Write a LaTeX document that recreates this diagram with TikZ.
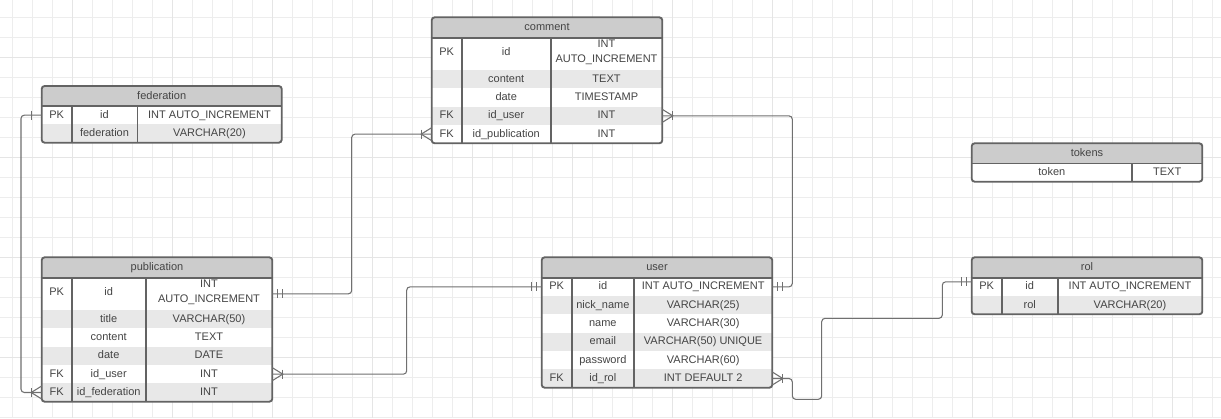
\documentclass[tikz,border=0pt]{standalone}
\usepackage{fontspec}
\setmainfont{Liberation Sans}
\usetikzlibrary{calc,fit}
\definecolor{hdrgray}{HTML}{CCCCCC}
\definecolor{rowgray}{HTML}{E8E8E8}
\definecolor{bordergray}{HTML}{636363}
\definecolor{txtgray}{HTML}{444444}
\definecolor{conngray}{HTML}{707070}
\definecolor{gridminor}{HTML}{EDEDED}
\definecolor{gridmajor}{HTML}{E5E5E5}
\tikzset{
  cell/.style={inner sep=0pt, outer sep=0pt},
  shaded/.style={cell, fill=rowgray, draw=none},
  txt/.style={text=txtgray, font=\fontsize{8.25}{10.5}\selectfont, inner sep=0pt, text height=4.5pt, text depth=0pt},
  tabline/.style={draw=bordergray, line width=1.2pt},
  tabframe/.style={draw=bordergray, line width=1.4pt, rounded corners=2.2pt},
  conn/.style={draw=conngray, line width=0.8pt, rounded corners=2.5pt},
  ermark/.style={draw=conngray, line width=0.8pt},
  crow/.pic={\draw[ermark] (0,-6.5) -- (-10.5,0) -- (0,6.5); \draw[ermark] (-10.5,-4.5) -- (-10.5,4.5);},
  onebar/.pic={\draw[ermark] (-10.5,-4.5) -- (-10.5,4.5);},
  twobar/.pic={\draw[ermark] (-5,-4.5) -- (-5,4.5); \draw[ermark] (-10,-4.5) -- (-10,4.5);},
}
\begin{document}
\begin{tikzpicture}[x=0.75pt,y=-0.75pt]
\useasboundingbox (0,0) rectangle (1221,418);
\fill[white] (0,0) rectangle (1221,418);
% grid
\foreach \gx in {12.3,32.3,...,1221} \draw[gridminor, line width=0.75pt] (\gx,0) -- (\gx,418);
\foreach \gy in {17.3,37.3,...,418} \draw[gridminor, line width=0.75pt] (0,\gy) -- (1221,\gy);
\foreach \gx in {72.3,172.3,...,1221} \draw[gridmajor, line width=0.75pt] (\gx,0) -- (\gx,418);
\foreach \gy in {57.3,157.3,...,418} \draw[gridmajor, line width=0.75pt] (0,\gy) -- (1221,\gy);

% ================= federation =================
\begin{scope}
\clip[rounded corners=2.2pt] (41.7,86) rectangle (281.7,142.7);
\fill[white] (41.7,86) rectangle (281.7,142.7);
\fill[hdrgray] (41.7,86) rectangle (281.7,106);
\node[fit={(41.7,106)(281.7,124.3)}, cell] (fedPK) {};
\node[fit={(41.7,124.3)(281.7,142.7)}, shaded] (fedName) {};
\end{scope}
\node[txt] (fedH) at (161.7,96) {federation};
\node[txt] (fedPKa) at (56.7,115.2) {PK};
\node[txt] (fedPKb) at (104.5,115.2) {id};
\node[txt] (fedPKc) at (209.5,115.2) {INT AUTO\_INCREMENT};
\node[txt] (fedNameb) at (104.5,133.5) {federation};
\node[txt] (fedNamec) at (209.5,133.5) {VARCHAR(20)};
\draw[tabline] (41.7,106) -- (281.7,106);
\draw[tabline] (71.7,106) -- (71.7,142.7);
\draw[tabline] (137.3,106) -- (137.3,142.7);
\draw[tabframe] (41.7,86) rectangle (281.7,142.7);

% ================= comment =================
\begin{scope}
\clip[rounded corners=2.2pt] (431.7,17.3) rectangle (662.3,143.3);
\fill[white] (431.7,17.3) rectangle (662.3,143.3);
\fill[hdrgray] (431.7,17.3) rectangle (662.3,37.7);
\node[fit={(431.7,37.7)(662.3,70)}, cell] (comPK) {};
\node[fit={(431.7,70)(662.3,88.3)}, shaded] (comContent) {};
\node[fit={(431.7,88.3)(662.3,106.7)}, cell] (comDate) {};
\node[fit={(431.7,106.7)(662.3,125)}, shaded] (comUser) {};
\node[fit={(431.7,125)(662.3,143.3)}, cell] (comPub) {};
\end{scope}
\node[txt] (comH) at (547,27.5) {comment};
\node[txt] (comPKa) at (446.7,52.9) {PK};
\node[txt] (comPKb) at (506.2,52.9) {id};
\node[txt] (comPKc) at (606.5,44.9) {INT};
\node[txt] (comPKd) at (606.5,59.9) {AUTO\_INCREMENT};
\node[txt] (comContentb) at (506.2,79.2) {content};
\node[txt] (comContentc) at (606.5,79.2) {TEXT};
\node[txt] (comDateb) at (506.2,97.5) {date};
\node[txt] (comDatec) at (606.5,97.5) {TIMESTAMP};
\node[txt] (comUsera) at (446.7,115.8) {FK};
\node[txt] (comUserb) at (506.2,115.8) {id\_user};
\node[txt] (comUserc) at (606.5,115.8) {INT};
\node[txt] (comPuba) at (446.7,134.2) {FK};
\node[txt] (comPubb) at (506.2,134.2) {id\_publication};
\node[txt] (comPubc) at (606.5,134.2) {INT};
\draw[tabline] (431.7,37.7) -- (662.3,37.7);
\draw[tabline] (461.7,37.7) -- (461.7,143.3);
\draw[tabline] (550.7,37.7) -- (550.7,143.3);
\draw[tabframe] (431.7,17.3) rectangle (662.3,143.3);

% ================= publication =================
\begin{scope}
\clip[rounded corners=2.2pt] (41.7,257.3) rectangle (272.3,401.7);
\fill[white] (41.7,257.3) rectangle (272.3,401.7);
\fill[hdrgray] (41.7,257.3) rectangle (272.3,277.7);
\node[fit={(41.7,277.7)(272.3,310)}, cell] (pubPK) {};
\node[fit={(41.7,310)(272.3,328.3)}, shaded] (pubTitle) {};
\node[fit={(41.7,328.3)(272.3,346.7)}, cell] (pubContent) {};
\node[fit={(41.7,346.7)(272.3,365)}, shaded] (pubDate) {};
\node[fit={(41.7,365)(272.3,383.3)}, cell] (pubUser) {};
\node[fit={(41.7,383.3)(272.3,401.7)}, shaded] (pubFed) {};
\end{scope}
\node[txt] (pubH) at (157,267.5) {publication};
\node[txt] (pubPKa) at (56.7,292.9) {PK};
\node[txt] (pubPKb) at (108.7,292.9) {id};
\node[txt] (pubPKc) at (209,284.9) {INT};
\node[txt] (pubPKd) at (209,299.9) {AUTO\_INCREMENT};
\node[txt] (pubTitleb) at (108.7,319.2) {title};
\node[txt] (pubTitlec) at (209,319.2) {VARCHAR(50)};
\node[txt] (pubContentb) at (108.7,337.5) {content};
\node[txt] (pubContentc) at (209,337.5) {TEXT};
\node[txt] (pubDateb) at (108.7,355.8) {date};
\node[txt] (pubDatec) at (209,355.8) {DATE};
\node[txt] (pubUsera) at (56.7,374.2) {FK};
\node[txt] (pubUserb) at (108.7,374.2) {id\_user};
\node[txt] (pubUserc) at (209,374.2) {INT};
\node[txt] (pubFeda) at (56.7,392.5) {FK};
\node[txt] (pubFedb) at (108.7,392.5) {id\_federation};
\node[txt] (pubFedc) at (209,392.5) {INT};
\draw[tabline] (41.7,277.7) -- (272.3,277.7);
\draw[tabline] (71.7,277.7) -- (71.7,401.7);
\draw[tabline] (145.7,277.7) -- (145.7,401.7);
\draw[tabframe] (41.7,257.3) rectangle (272.3,401.7);

% ================= user =================
\begin{scope}
\clip[rounded corners=2.2pt] (541.7,257.3) rectangle (772.3,387.7);
\fill[white] (541.7,257.3) rectangle (772.3,387.7);
\fill[hdrgray] (541.7,257.3) rectangle (772.3,277.7);
\node[fit={(541.7,277.7)(772.3,296)}, cell] (userPK) {};
\node[fit={(541.7,296)(772.3,314.3)}, shaded] (userNick) {};
\node[fit={(541.7,314.3)(772.3,332.7)}, cell] (userName) {};
\node[fit={(541.7,332.7)(772.3,351)}, shaded] (userEmail) {};
\node[fit={(541.7,351)(772.3,369.3)}, cell] (userPass) {};
\node[fit={(541.7,369.3)(772.3,387.7)}, shaded] (userRol) {};
\end{scope}
\node[txt] (userH) at (657,267.5) {user};
\node[txt] (userPKa) at (556.7,286.8) {PK};
\node[txt] (userPKb) at (602.85,286.8) {id};
\node[txt] (userPKc) at (703.15,286.8) {INT AUTO\_INCREMENT};
\node[txt] (userNickb) at (602.85,305.2) {nick\_name};
\node[txt] (userNickc) at (703.15,305.2) {VARCHAR(25)};
\node[txt] (userNameb) at (602.85,323.5) {name};
\node[txt] (userNamec) at (703.15,323.5) {VARCHAR(30)};
\node[txt] (userEmailb) at (602.85,341.8) {email};
\node[txt] (userEmailc) at (703.15,341.8) {VARCHAR(50) UNIQUE};
\node[txt] (userPassb) at (602.85,360.2) {password};
\node[txt] (userPassc) at (703.15,360.2) {VARCHAR(60)};
\node[txt] (userRola) at (556.7,378.5) {FK};
\node[txt] (userRolb) at (602.85,378.5) {id\_rol};
\node[txt] (userRolc) at (703.15,378.5) {INT DEFAULT 2};
\draw[tabline] (541.7,277.7) -- (772.3,277.7);
\draw[tabline] (571.7,277.7) -- (571.7,387.7);
\draw[tabline] (634,277.7) -- (634,387.7);
\draw[tabframe] (541.7,257.3) rectangle (772.3,387.7);

% ================= tokens =================
\begin{scope}
\clip[rounded corners=2.2pt] (971.7,143.3) rectangle (1202.3,181.7);
\fill[white] (971.7,143.3) rectangle (1202.3,181.7);
\fill[hdrgray] (971.7,143.3) rectangle (1202.3,163.3);
\node[fit={(971.7,163.3)(1202.3,181.7)}, cell] (tokRow) {};
\end{scope}
\node[txt] (tokH) at (1087,153.3) {tokens};
\node[txt] (tokRowa) at (1051.85,172.5) {token};
\node[txt] (tokRowb) at (1167.15,172.5) {TEXT};
\draw[tabline] (971.7,163.3) -- (1202.3,163.3);
\draw[tabline] (1132,163.3) -- (1132,181.7);
\draw[tabframe] (971.7,143.3) rectangle (1202.3,181.7);

% ================= rol =================
\begin{scope}
\clip[rounded corners=2.2pt] (971.7,257.3) rectangle (1202.3,314.3);
\fill[white] (971.7,257.3) rectangle (1202.3,314.3);
\fill[hdrgray] (971.7,257.3) rectangle (1202.3,277.7);
\node[fit={(971.7,277.7)(1202.3,296)}, cell] (rolPK) {};
\node[fit={(971.7,296)(1202.3,314.3)}, shaded] (rolName) {};
\end{scope}
\node[txt] (rolH) at (1087,267.5) {rol};
\node[txt] (rolPKa) at (986.7,286.8) {PK};
\node[txt] (rolPKb) at (1029.7,286.8) {id};
\node[txt] (rolPKc) at (1130,286.8) {INT AUTO\_INCREMENT};
\node[txt] (rolNameb) at (1029.7,305.2) {rol};
\node[txt] (rolNamec) at (1130,305.2) {VARCHAR(20)};
\draw[tabline] (971.7,277.7) -- (1202.3,277.7);
\draw[tabline] (1001.7,277.7) -- (1001.7,314.3);
\draw[tabline] (1057.7,277.7) -- (1057.7,314.3);
\draw[tabframe] (971.7,257.3) rectangle (1202.3,314.3);

% ================= connectors =================
\coordinate (rolIn) at ($(rolPK.west)+(0,-5)$);
% federation - publication
\draw[conn] (fedPK.west) -- ++(-20.7,0) |- (pubFed.west);
\pic at (fedPK.west) {onebar};
\pic at (pubFed.west) {crow};
% publication - comment
\draw[conn] (pubPK.east) -- ++(79.4,0) |- (comPub.west);
\pic[xscale=-1] at (pubPK.east) {twobar};
\pic at (comPub.west) {crow};
% comment - user
\draw[conn] (comUser.east) -- ++(130,0) |- (userPK.east);
\pic[xscale=-1] at (comUser.east) {crow};
\pic[xscale=-1] at (userPK.east) {twobar};
% publication - user
\draw[conn] (pubUser.east) -- ++(134.4,0) |- (userPK.west);
\pic[xscale=-1] at (pubUser.east) {crow};
\pic at (userPK.west) {twobar};
% user - rol
\draw[conn] (userRol.east) -- ++(20,0) -- ++(0,20.8) -- ++(29.4,0) -- ++(0,-81) -- ++(120.6,0) |- (rolIn);
\pic[xscale=-1] at (userRol.east) {crow};
\pic at (rolIn) {twobar};
\end{tikzpicture}
\end{document}
